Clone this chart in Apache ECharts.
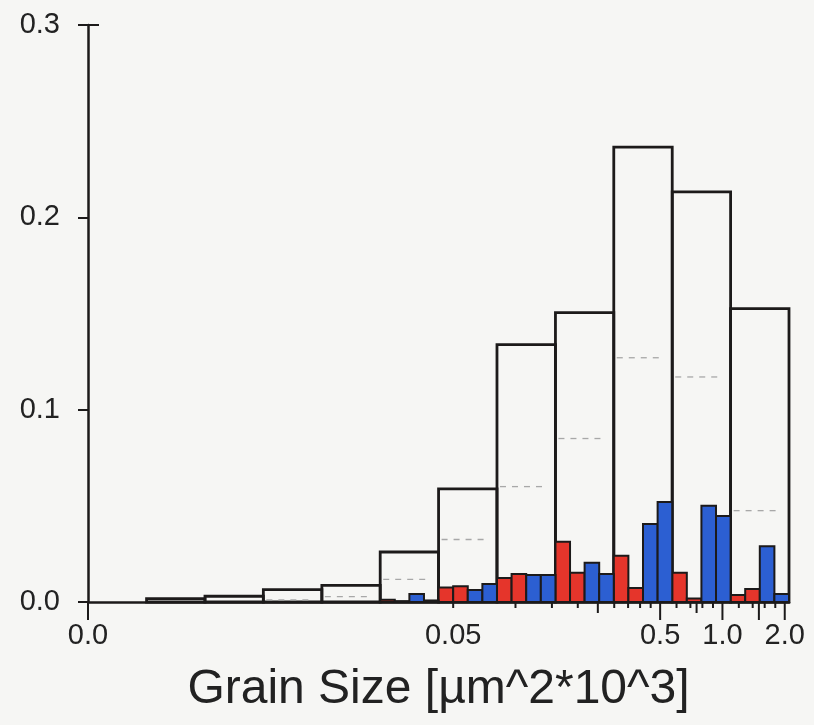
<!DOCTYPE html>
<html>
<head>
<meta charset="utf-8">
<script src="https://cdn.jsdelivr.net/npm/echarts@6/dist/echarts.min.js"></script>
<style>
  html, body { margin: 0; padding: 0; background: #f6f6f4; }
  #chart { width: 814px; height: 725px; }
</style>
</head>
<body>
<div id="chart"></div>
<script>
  // grain size bins [µm^2*10^3], log spaced
  var binEdges = [0.00086, 0.00165, 0.00316, 0.00605, 0.0116, 0.0222, 0.0425, 0.0814, 0.156, 0.2985, 0.572, 1.095, 2.097]
  var totalFreq = [0, 0.0018, 0.003, 0.0064, 0.0086, 0.026, 0.0588, 0.1338, 0.1505, 0.2365, 0.2132, 0.1525]
  var dashedFreq = [null, null, null, 0.0011, 0.0028, 0.0118, 0.0325, 0.060, 0.085, 0.127, 0.117, 0.0475]
  // two narrow bars per bin (red = first half, blue = second half)
  var redFreq = [0, 0, 0, 0, 0, 0, 0, 0, 0, 0, 0.0012, 0.0004, 0.0075, 0.0082, 0.0125, 0.0145, 0.0313, 0.0152, 0.024, 0.0073, 0.0152, 0.0018, 0.0036, 0.0067]
  var blueFreq = [0, 0, 0, 0, 0, 0, 0, 0, 0, 0, 0.0042, 0.0008, 0.0062, 0.0093, 0.014, 0.014, 0.0204, 0.0145, 0.0405, 0.052, 0.050, 0.0447, 0.029, 0.0042]
  var xLabels = ['0.0', '0.05', '0.5', '1.0', '2.0']
  var xLabelAt = [0.00086, 0.05, 0.5, 1.0, 2.0]
  var minorTicks = [0.05, 0.1, 0.15, 0.2, 0.3, 0.35, 0.4, 0.45, 0.6, 0.7, 0.8, 0.9, 1.2, 1.4, 1.6, 1.8]
  var midTicks = [0.25, 0.75]
  var majorTicks = [0.00086, 0.5, 1.0, 1.5, 2.0]

  var lg = Math.log10
  var ink = '#1c1a1a'
  var font = 'Liberation Sans'

  var whiteData = []
  var dashData = []
  var redData = []
  var blueData = []
  for (var k = 0; k < totalFreq.length; k++) {
    var lo = lg(binEdges[k]), hi = lg(binEdges[k + 1]), q = (hi - lo) / 4
    if (totalFreq[k] > 0) whiteData.push([lo, hi, totalFreq[k]])
    if (dashedFreq[k] != null) dashData.push([lo, hi, dashedFreq[k]])
    for (var s = 0; s < 2; s++) {
      var r = redFreq[k * 2 + s], b = blueFreq[k * 2 + s]
      if (r > 0) redData.push([lo + s * q, lo + (s + 1) * q, r])
      if (b > 0) blueData.push([lo + (s + 2) * q, lo + (s + 3) * q, b])
    }
  }
  var tickData = []
  minorTicks.forEach(function (v) { tickData.push([lg(v), 6]) })
  midTicks.forEach(function (v) { tickData.push([lg(v), 11]) })
  majorTicks.forEach(function (v) { tickData.push([lg(v), 18]) })
  var labelData = xLabels.map(function (t, i) { return [lg(xLabelAt[i]), 0, t] })

  function barRender(fill, lw) {
    return function (params, api) {
      var p0 = api.coord([api.value(0), 0])
      var p1 = api.coord([api.value(1), api.value(2)])
      return {
        type: 'rect',
        shape: {x: p0[0], y: p1[1], width: p1[0] - p0[0], height: p0[1] - p1[1]},
        style: {fill: fill, stroke: ink, lineWidth: lw}
      }
    }
  }

  var chart = echarts.init(document.getElementById('chart'))
  chart.setOption({
    backgroundColor: '#f6f6f4',
    animation: false,
    grid: {left: 88, right: 25, top: 25, bottom: 123, outerBoundsMode: 'none'},
    xAxis: {
      type: 'value',
      min: lg(binEdges[0]),
      max: lg(binEdges[binEdges.length - 1]),
      axisLine: {lineStyle: {color: ink, width: 2.5}},
      axisTick: {show: false},
      axisLabel: {show: false},
      splitLine: {show: false},
      name: 'Grain Size [µm^2*10^3]',
      nameLocation: 'middle',
      nameGap: 64,
      nameTextStyle: {fontSize: 48, color: '#222', fontFamily: font}
    },
    yAxis: {
      type: 'value',
      min: 0,
      max: 0.3,
      interval: 0.1,
      axisLine: {show: true, onZero: false, lineStyle: {color: ink, width: 2.5}},
      axisTick: {show: true, length: 10, lineStyle: {color: ink, width: 2}},
      axisLabel: {
        margin: 28, fontSize: 29, color: '#222', fontFamily: font,
        formatter: function (v) { return v.toFixed(1) }
      },
      splitLine: {show: false}
    },
    series: [
      {type: 'custom', name: 'total', data: whiteData, renderItem: barRender('rgba(0,0,0,0)', 2.8), z: 2},
      {
        type: 'custom', name: 'dashed', data: dashData, z: 3,
        renderItem: function (params, api) {
          var a = api.coord([api.value(0), api.value(2)])
          var b = api.coord([api.value(1), api.value(2)])
          return {
            type: 'line',
            shape: {x1: a[0] + 3, y1: a[1], x2: b[0] - 9, y2: b[1]},
            style: {stroke: '#a8a8a8', lineWidth: 1.3, lineDash: [6, 6]}
          }
        }
      },
      {type: 'custom', name: 'red', data: redData, renderItem: barRender('#e5352b', 2), z: 4},
      {type: 'custom', name: 'blue', data: blueData, renderItem: barRender('#2c5fd2', 2), z: 4},
      {
        type: 'custom', name: 'xticks', data: tickData, z: 5,
        renderItem: function (params, api) {
          var p = api.coord([api.value(0), 0])
          return {
            type: 'line',
            shape: {x1: p[0], y1: p[1], x2: p[0], y2: p[1] + api.value(1)},
            style: {stroke: ink, lineWidth: 2}
          }
        }
      },
      {
        type: 'custom', name: 'xlabels', data: labelData, z: 5,
        renderItem: function (params, api) {
          var p = api.coord([api.value(0), 0])
          return {
            type: 'text',
            x: p[0], y: p[1] + 34,
            style: {
              text: labelData[params.dataIndex][2], fill: '#222',
              fontSize: 29, fontFamily: font, align: 'center', verticalAlign: 'middle'
            }
          }
        }
      },
      {
        // right half of the cap at the top of the y axis
        type: 'custom', name: 'ycap', data: [[lg(binEdges[0]), 0.3]], z: 5,
        renderItem: function (params, api) {
          var p = api.coord([api.value(0), api.value(1)])
          return {
            type: 'line',
            shape: {x1: p[0], y1: p[1], x2: p[0] + 11, y2: p[1]},
            style: {stroke: ink, lineWidth: 2}
          }
        }
      }
    ]
  })
</script>
</body>
</html>
